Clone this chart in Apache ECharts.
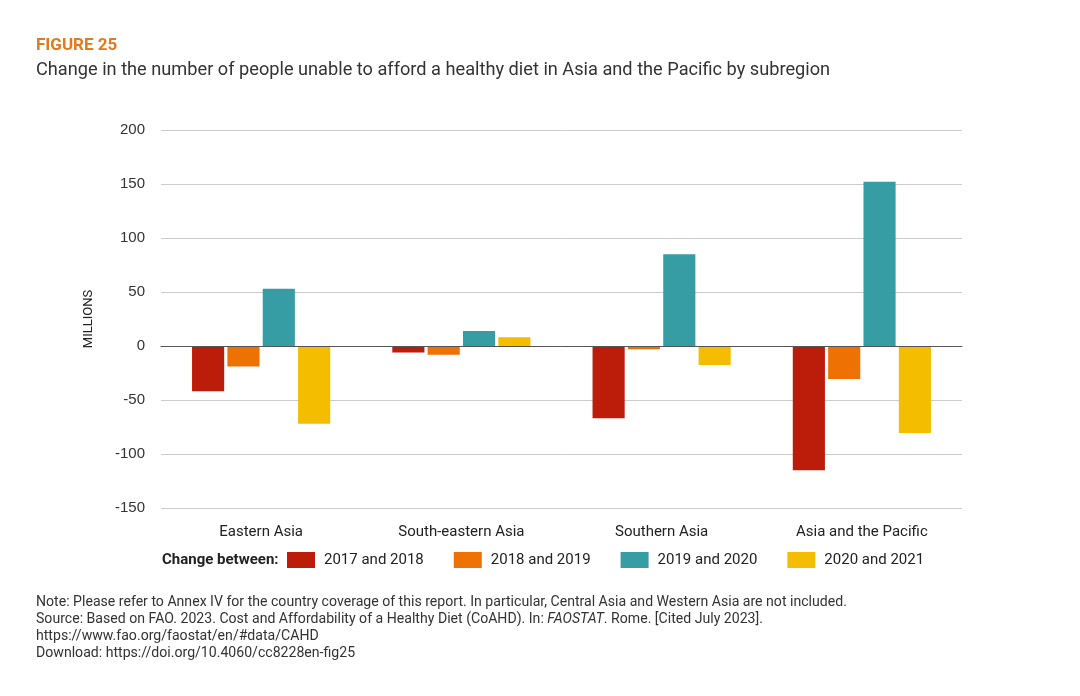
<!DOCTYPE html>
<html><head><meta charset="utf-8">
<script src="https://cdn.jsdelivr.net/npm/echarts@6/dist/echarts.min.js"></script>
<style>html,body{margin:0;padding:0;background:#fff}#c{width:1080px;height:696px}</style>
</head><body><div id="c"></div>
<script>
const categories = ['Eastern Asia', 'South-eastern Asia', 'Southern Asia', 'Asia and the Pacific'];
const seriesNames = ['2017 and 2018', '2018 and 2019', '2019 and 2020', '2020 and 2021'];
const v2017_2018 = [-42, -6, -67, -115];
const v2018_2019 = [-19, -8, -3, -30.5];
const v2019_2020 = [53, 14, 85, 152];
const v2020_2021 = [-72, 8, -17.6, -80.5];
const yTicks = { min: -150, max: 200, interval: 50 };
const colors = ['#BC1C0A', '#EE7203', '#379DA4', '#F5BD00'];

const values = [v2017_2018, v2018_2019, v2019_2020, v2020_2021];
const chart = echarts.init(document.getElementById('c'));
const font = 'Roboto, "Liberation Sans", sans-serif';
chart.setOption({
  animation: false,
  backgroundColor: '#fff',
  textStyle: { fontFamily: font },
  grid: { left: 161, right: 118, top: 130, bottom: 188 },
  xAxis: {
    type: 'category', data: categories,
    axisLine: { onZero: true, lineStyle: { color: '#555', width: 1 } },
    axisTick: { show: false },
    axisLabel: { fontSize: 15, color: '#222', margin: 17, fontFamily: font, interval: 0 },
    z: 5
  },
  yAxis: {
    type: 'value', min: yTicks.min, max: yTicks.max, interval: yTicks.interval,
    name: 'MILLIONS', nameLocation: 'middle', nameRotate: 90, nameGap: 66,
    nameTextStyle: { fontSize: 13, color: '#222', fontFamily: '"Liberation Sans Narrow", ' + font },
    axisLine: { show: false }, axisTick: { show: false },
    axisLabel: { fontSize: 15, color: '#333', margin: 16, fontFamily: '"Liberation Sans", Arial, sans-serif' },
    splitLine: { lineStyle: { color: '#cccccc', width: 1 } }
  },
  legend: {
    left: 287, top: 552, padding: 0, itemWidth: 28, itemHeight: 16, itemGap: 30,
    icon: 'rect',
    data: seriesNames,
    textStyle: { fontSize: 15, color: '#222', padding: [0, 0, 0, 4], fontFamily: font }
  },
  series: seriesNames.map((n, i) => ({
    name: n, type: 'bar', data: values[i],
    itemStyle: { color: colors[i] },
    barGap: '10%', barCategoryGap: '31%'
  })),
  graphic: [
    { type: 'text', left: 36, top: 37, style: { text: 'FIGURE 25', fontSize: 17, fontWeight: 'bold', fill: '#E07B1F', fontFamily: font } },
    { type: 'text', left: 36, top: 61, style: { text: 'Change in the number of people unable to afford a healthy diet in Asia and the Pacific by subregion', fontSize: 18.2, fill: '#333', fontFamily: font } },
    { type: 'text', left: 162, top: 553, style: { text: 'Change between:', fontSize: 15, fontWeight: 'bold', fill: '#222', fontFamily: font } },
    { type: 'text', left: 36, top: 594, style: {
      text: 'Note: Please refer to Annex IV for the country coverage of this report. In particular, Central Asia and Western Asia are not included.\n' +
            'Source: Based on FAO. 2023. Cost and Affordability of a Healthy Diet (CoAHD). In: {i|FAOSTAT}. Rome. [Cited July 2023].\n' +
            'https://www.fao.org/faostat/en/#data/CAHD\n' +
            'Download: https://doi.org/10.4060/cc8228en-fig25',
      fontSize: 14.1, lineHeight: 17, fill: '#333', fontFamily: font,
      rich: { i: { fontStyle: 'italic', fontSize: 14.1, fill: '#333', fontFamily: font, lineHeight: 17 } }
    } }
  ]
});
</script></body></html>
